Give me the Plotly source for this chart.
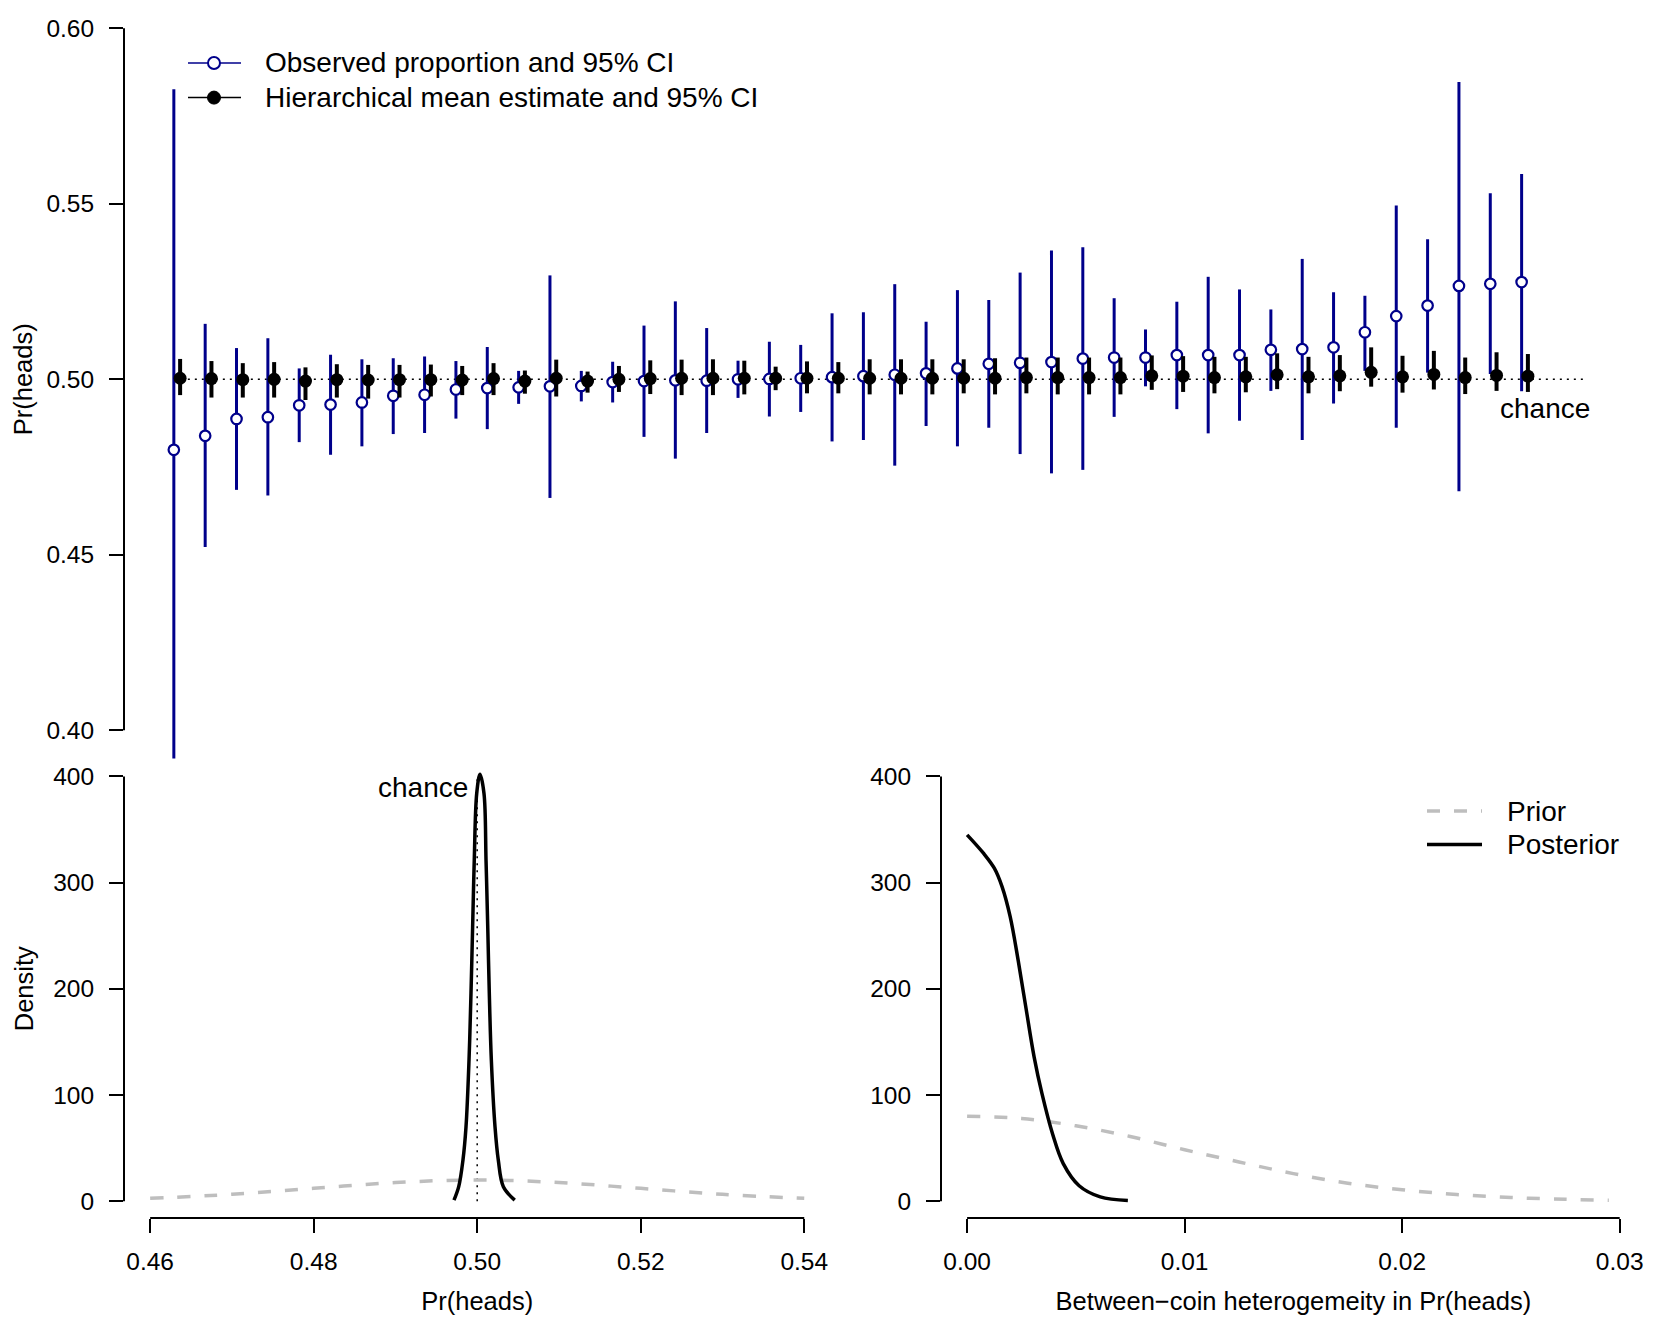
"""
Coin flips: observed proportions vs hierarchical estimates, plus prior/posterior densities
"""
import plotly.graph_objects as go

# --- top panel: one entry per coin ---
coin = list(range(1, 45))

obs_mean = [0.4799, 0.4839, 0.4887, 0.4892, 0.4926, 0.4928, 0.4934, 0.4953, 0.4956, 0.4971,
            0.4975, 0.4977, 0.4980, 0.4981, 0.4992, 0.4995, 0.4997, 0.4996, 0.5000, 0.5001,
            0.5003, 0.5006, 0.5009, 0.5013, 0.5017, 0.5031, 0.5044, 0.5047, 0.5049, 0.5059,
            0.5062, 0.5062, 0.5069, 0.5069, 0.5069, 0.5084, 0.5086, 0.5091, 0.5134, 0.5180,
            0.5210, 0.5266, 0.5272, 0.5277]
obs_upper = [0.5826, 0.5158, 0.5089, 0.5117, 0.5031, 0.5070, 0.5057, 0.5060, 0.5065, 0.5052,
             0.5092, 0.5024, 0.5296, 0.5024, 0.5050, 0.5153, 0.5222, 0.5146, 0.5053, 0.5107,
             0.5098, 0.5188, 0.5191, 0.5271, 0.5164, 0.5254, 0.5226, 0.5304, 0.5367, 0.5376,
             0.5231, 0.5142, 0.5221, 0.5292, 0.5256, 0.5199, 0.5343, 0.5248, 0.5238, 0.5495,
             0.5399, 0.5847, 0.5530, 0.5585]
obs_lower = [0.3780, 0.4522, 0.4685, 0.4669, 0.4821, 0.4785, 0.4809, 0.4844, 0.4847, 0.4888,
             0.4858, 0.4930, 0.4662, 0.4937, 0.4934, 0.4836, 0.4774, 0.4847, 0.4947, 0.4894,
             0.4907, 0.4823, 0.4827, 0.4754, 0.4867, 0.4809, 0.4862, 0.4787, 0.4732, 0.4742,
             0.4893, 0.4980, 0.4915, 0.4846, 0.4882, 0.4967, 0.4827, 0.4931, 0.5024, 0.4862,
             0.5019, 0.4681, 0.5015, 0.4966]

hier_mean = [0.5003, 0.5002, 0.4999, 0.5000, 0.4995, 0.4999, 0.4998, 0.4999, 0.4999, 0.4998,
             0.5002, 0.4995, 0.5003, 0.4995, 0.5000, 0.5002, 0.5003, 0.5003, 0.5003, 0.5003,
             0.5003, 0.5003, 0.5003, 0.5003, 0.5003, 0.5003, 0.5003, 0.5005, 0.5005, 0.5005,
             0.5005, 0.5010, 0.5009, 0.5005, 0.5007, 0.5013, 0.5007, 0.5010, 0.5020, 0.5007,
             0.5014, 0.5005, 0.5011, 0.5009]
hier_upper = [0.5058, 0.5052, 0.5046, 0.5049, 0.5034, 0.5043, 0.5041, 0.5041, 0.5042, 0.5038,
              0.5046, 0.5025, 0.5056, 0.5022, 0.5038, 0.5054, 0.5056, 0.5057, 0.5053, 0.5036,
              0.5051, 0.5049, 0.5057, 0.5057, 0.5057, 0.5057, 0.5060, 0.5062, 0.5062, 0.5062,
              0.5062, 0.5068, 0.5066, 0.5064, 0.5064, 0.5074, 0.5064, 0.5069, 0.5091, 0.5067,
              0.5081, 0.5062, 0.5077, 0.5072]
hier_lower = [0.4955, 0.4948, 0.4948, 0.4948, 0.4941, 0.4948, 0.4945, 0.4948, 0.4951, 0.4955,
              0.4955, 0.4959, 0.4951, 0.4962, 0.4964, 0.4958, 0.4955, 0.4955, 0.4957, 0.4969,
              0.4960, 0.4960, 0.4957, 0.4957, 0.4957, 0.4960, 0.4957, 0.4960, 0.4957, 0.4957,
              0.4957, 0.4970, 0.4964, 0.4960, 0.4963, 0.4972, 0.4960, 0.4966, 0.4979, 0.4962,
              0.4971, 0.4958, 0.4967, 0.4964]

# --- bottom left: overall Pr(heads) ---
mean_prior_x = [0.46, 0.47, 0.48, 0.49, 0.50, 0.51, 0.52, 0.53, 0.54]
mean_prior_y = [2.7, 6.5, 12.1, 17.6, 20.0, 17.6, 12.1, 6.5, 2.7]
mean_post_x = [0.49716, 0.49774, 0.49826, 0.49863, 0.49900, 0.49924, 0.49944, 0.49964,
               0.49994, 0.50034, 0.50083, 0.50108, 0.50129, 0.50148, 0.50173, 0.50218,
               0.50258, 0.50320, 0.50459]
mean_post_y = [1, 13.7, 38.8, 70, 133, 196, 258, 321, 384, 402, 384, 321, 258, 196, 133,
               70, 38.8, 13.7, 1]

# --- bottom right: between-coin heterogeneity ---
het_prior_x = [0, 0.0025, 0.005, 0.0075, 0.01, 0.0125, 0.015, 0.0175, 0.02, 0.0225,
               0.025, 0.0275, 0.0295]
het_prior_y = [80, 78, 71, 61, 48.5, 37, 26, 17, 10.8, 6.3, 3.5, 1.8, 1.0]
het_post_x = [0, 0.00076, 0.00125, 0.00161, 0.00198, 0.00235, 0.00271, 0.00308, 0.00344,
              0.00393, 0.00442, 0.00515, 0.00612, 0.00739]
het_post_y = [345, 327.5, 313.6, 296, 268, 226.6, 181.5, 136, 101.5, 63.3, 35.4, 14.6,
              4.1, 0.7]

BLUE = "#00008B"
GREY = "#BEBEBE"
FONT = "Liberation Sans, Arial, Helvetica, sans-serif"
W, H = 1661, 1329


def px(x):
    return x / W


def py(y):
    return 1 - y / H


fig = go.Figure()

# observed proportions
fig.add_trace(go.Scatter(
    x=coin, y=obs_mean, mode="markers", xaxis="x", yaxis="y", showlegend=False,
    marker=dict(symbol="circle", size=10.5, color="white", line=dict(color=BLUE, width=2.2)),
    error_y=dict(type="data", symmetric=False,
                 array=[u - m for u, m in zip(obs_upper, obs_mean)],
                 arrayminus=[m - l for m, l in zip(obs_mean, obs_lower)],
                 color=BLUE, thickness=3, width=0),
))
# hierarchical estimates, nudged right
fig.add_trace(go.Scatter(
    x=[c + 0.2 for c in coin], y=hier_mean, mode="markers", xaxis="x", yaxis="y",
    showlegend=False,
    marker=dict(symbol="circle", size=13, color="black"),
    error_y=dict(type="data", symmetric=False,
                 array=[u - m for u, m in zip(hier_upper, hier_mean)],
                 arrayminus=[m - l for m, l in zip(hier_mean, hier_lower)],
                 color="black", thickness=4, width=0),
))

dash_grey = dict(color=GREY, width=3.5, dash="13px,14px")
fig.add_trace(go.Scatter(x=mean_prior_x, y=mean_prior_y, mode="lines", line=dict(shape="spline", **dash_grey),
                         xaxis="x2", yaxis="y2", showlegend=False))
fig.add_trace(go.Scatter(x=mean_post_x, y=mean_post_y, mode="lines",
                         line=dict(color="black", width=3.5, shape="spline"),
                         xaxis="x2", yaxis="y2", showlegend=False))
fig.add_trace(go.Scatter(x=het_prior_x, y=het_prior_y, mode="lines", line=dict(shape="spline", **dash_grey),
                         xaxis="x3", yaxis="y3", showlegend=False))
fig.add_trace(go.Scatter(x=het_post_x, y=het_post_y, mode="lines",
                         line=dict(color="black", width=3.5, shape="spline"),
                         xaxis="x3", yaxis="y3", showlegend=False))

tickfont = dict(family=FONT, size=24.5, color="black")
titlefont = dict(family=FONT, size=25.5, color="black")


def yax(rng, domain, tickvals, ticktext, title, anchor, standoff):
    return dict(range=rng, domain=domain, anchor=anchor, tickvals=tickvals, ticktext=ticktext,
                ticks="outside", ticklen=14, tickwidth=1.5, tickcolor="black",
                tickfont=tickfont, ticklabelstandoff=10, showline=False, showgrid=False,
                zeroline=False, automargin=False,
                title=dict(text=title, font=titlefont, standoff=standoff))


def xax(rng, domain, tickvals, ticktext, title, anchor):
    return dict(range=rng, domain=domain, anchor=anchor, tickvals=tickvals, ticktext=ticktext,
                ticks="outside", ticklen=14, tickwidth=1.5, tickcolor="black",
                tickfont=tickfont, ticklabelstandoff=8, showline=False, showgrid=False,
                zeroline=False, automargin=False,
                title=dict(text=title, font=titlefont, standoff=17))


top_dom_y = [py(758.4), py(0.2)]
bot_dom_y = [py(1218), py(759.5)]
left_x = px(124)
right_x = px(941)

fig.update_layout(
    width=W, height=H,
    margin=dict(l=0, r=0, t=0, b=0),
    paper_bgcolor="white", plot_bgcolor="white",
    font=dict(family=FONT, color="black"),
    xaxis=dict(range=[-0.59, 48], domain=[left_x, px(1647)], anchor="y", visible=False),
    yaxis=yax([0.392, 0.608], top_dom_y, [0.40, 0.45, 0.50, 0.55, 0.60],
              ["0.40", "0.45", "0.50", "0.55", "0.60"], "Pr(heads)", "x", 6),
    xaxis2=xax([0.4568, 0.5432], [left_x, px(830.4)], [0.46, 0.48, 0.50, 0.52, 0.54],
               ["0.46", "0.48", "0.50", "0.52", "0.54"], "Pr(heads)", "y2"),
    yaxis2=yax([-15.8, 416], bot_dom_y, [0, 100, 200, 300, 400],
               ["0", "100", "200", "300", "400"], "Density", "x2", 12),
    xaxis3=xax([-0.0012, 0.0312], [right_x, px(1645.8)], [0, 0.01, 0.02, 0.03],
               ["0.00", "0.01", "0.02", "0.03"], "Between\u2212coin heterogemeity in Pr(heads)", "y3"),
    yaxis3=yax([-15.8, 416], bot_dom_y, [0, 100, 200, 300, 400],
               ["0", "100", "200", "300", "400"], "", "x3", 12),
)

axis_line = dict(color="black", width=2)
shapes = [
    # R-style axis lines spanning only the tick range
    dict(type="line", xref="paper", yref="y", x0=left_x, x1=left_x, y0=0.40, y1=0.60, line=axis_line),
    dict(type="line", xref="paper", yref="y2", x0=left_x, x1=left_x, y0=0, y1=400, line=axis_line),
    dict(type="line", xref="x2", yref="paper", x0=0.46, x1=0.54, y0=bot_dom_y[0], y1=bot_dom_y[0], line=axis_line),
    dict(type="line", xref="paper", yref="y3", x0=right_x, x1=right_x, y0=0, y1=400, line=axis_line),
    dict(type="line", xref="x3", yref="paper", x0=0, x1=0.03, y0=bot_dom_y[0], y1=bot_dom_y[0], line=axis_line),
    # chance reference lines
    dict(type="line", xref="x", yref="y", x0=1, x1=46, y0=0.5, y1=0.5,
         line=dict(color="black", width=1.5, dash="2px,5px"), layer="below"),
    dict(type="line", xref="x2", yref="y2", x0=0.5, x1=0.5, y0=0, y1=400,
         line=dict(color="black", width=1.5, dash="2px,5px"), layer="below"),
    # top legend keys
    dict(type="line", xref="paper", yref="paper", x0=px(188), x1=px(241), y0=py(63), y1=py(63),
         line=dict(color=BLUE, width=1.5)),
    dict(type="circle", xref="paper", yref="paper", xsizemode="pixel", ysizemode="pixel",
         xanchor=px(214), yanchor=py(63), x0=-6, x1=6, y0=-6, y1=6,
         fillcolor="white", line=dict(color=BLUE, width=2)),
    dict(type="line", xref="paper", yref="paper", x0=px(188), x1=px(241), y0=py(97.6), y1=py(97.6),
         line=dict(color="black", width=1.5)),
    dict(type="circle", xref="paper", yref="paper", xsizemode="pixel", ysizemode="pixel",
         xanchor=px(214), yanchor=py(97.6), x0=-6.5, x1=6.5, y0=-6.5, y1=6.5,
         fillcolor="black", line=dict(color="black", width=1)),
    # bottom-right legend keys
    dict(type="line", xref="paper", yref="paper", x0=px(1427), x1=px(1482), y0=py(811), y1=py(811),
         line=dict(color=GREY, width=3.5, dash="13px,14px")),
    dict(type="line", xref="paper", yref="paper", x0=px(1427), x1=px(1482), y0=py(844.5), y1=py(844.5),
         line=dict(color="black", width=3.5)),
]
fig.update_layout(shapes=shapes)

legfont = dict(family=FONT, size=28, color="black")
annotations = [
    dict(xref="paper", yref="paper", x=px(262.5), y=py(63), text="Observed proportion and 95% CI",
         xanchor="left", yanchor="middle", showarrow=False, font=legfont),
    dict(xref="paper", yref="paper", x=px(262.5), y=py(97.6), text="Hierarchical mean estimate and 95% CI",
         xanchor="left", yanchor="middle", showarrow=False, font=legfont),
    dict(xref="x", yref="y", x=44.75, y=0.4918, text="chance", xanchor="center", yanchor="middle",
         showarrow=False, font=legfont),
    dict(xref="x2", yref="y2", x=0.4991, y=390, text="chance", xanchor="right", yanchor="middle",
         showarrow=False, font=legfont),
    dict(xref="paper", yref="paper", x=px(1504.5), y=py(811), text="Prior",
         xanchor="left", yanchor="middle", showarrow=False, font=legfont),
    dict(xref="paper", yref="paper", x=px(1504.5), y=py(844.5), text="Posterior",
         xanchor="left", yanchor="middle", showarrow=False, font=legfont),
]
fig.update_layout(annotations=annotations)

# drop the browser's default 8px body margin so the figure sits at the window origin
fig.write_html("out.html", config={"displayModeBar": False},
               post_script="document.body.style.margin='0';")
